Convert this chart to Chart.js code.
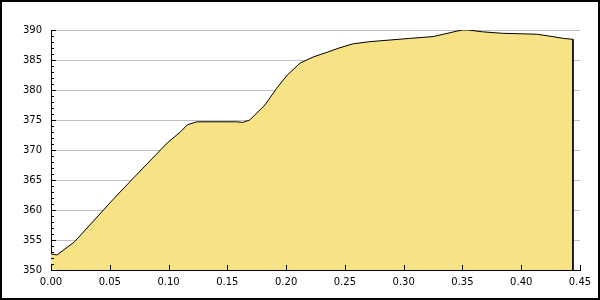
<!DOCTYPE html>
<html>
<head>
<meta charset="utf-8">
<script src="https://cdn.jsdelivr.net/npm/chart.js@4.4.1/dist/chart.umd.min.js"></script>
<style>
  body { margin: 0; background: #fff; }
  canvas { display: block; }
</style>
</head>
<body>
<canvas id="chart" width="600" height="300"></canvas>
<script>
// values (last point closes the area down to the axis)
let xValues = [0.000, 0.005, 0.020, 0.053, 0.070, 0.099, 0.110, 0.116, 0.124, 0.158, 0.163, 0.169,
               0.182, 0.192, 0.201, 0.212, 0.223, 0.235, 0.245, 0.257, 0.271, 0.305, 0.325, 0.345,
               0.350, 0.355, 0.367, 0.384, 0.413, 0.422, 0.436, 0.444, 0.444];
let yValues = [352.7, 352.5, 354.7, 361.8, 365.3, 371.2, 373.0, 374.2, 374.7, 374.7, 374.6, 375.0,
               377.5, 380.3, 382.5, 384.5, 385.5, 386.3, 387.0, 387.7, 388.05, 388.6, 388.9, 389.8,
               390.0, 390.0, 389.7, 389.45, 389.3, 389.05, 388.6, 388.45, 350];
let yTicks = [350, 355, 360, 365, 370, 375, 380, 385, 390];
let xTicks = [0.00, 0.05, 0.10, 0.15, 0.20, 0.25, 0.30, 0.35, 0.40, 0.45];

let points = [];
for (let i = 0; i < xValues.length; i++) {
    points.push({ x: xValues[i], y: yValues[i] });
}

// white background + frame round the whole picture
let framePlugin = {
    id: 'frame',
    beforeDraw: function (c) {
        let ctx = c.ctx;
        ctx.save();
        ctx.fillStyle = '#fff';
        ctx.fillRect(0, 0, c.width, c.height);
        ctx.restore();
    },
    afterDraw: function (c) {
        let ctx = c.ctx;
        ctx.save();
        ctx.strokeStyle = '#000';
        ctx.lineWidth = 2;
        ctx.strokeRect(1, 1, c.width - 2, c.height - 2);
        ctx.restore();
    }
};

// tick marks point into the plot area, minor ticks on y
let tickPlugin = {
    id: 'innerTicks',
    afterDatasetsDraw: function (c) {
        let ctx = c.ctx;
        let xs = c.scales.x, ys = c.scales.y;
        let left = c.chartArea.left, bottom = c.chartArea.bottom;
        ctx.save();
        ctx.strokeStyle = '#000';
        ctx.lineWidth = 1;
        ctx.beginPath();
        for (let v = yTicks[0]; v <= yTicks[yTicks.length - 1]; v++) {
            let py = Math.round(ys.getPixelForValue(v)) + 0.5;
            let len = (v % 5 === 0) ? 5 : 3;
            ctx.moveTo(left, py);
            ctx.lineTo(left + len, py);
        }
        for (let i = 0; i < xTicks.length; i++) {
            let px = Math.round(xs.getPixelForValue(xTicks[i])) + 0.5;
            ctx.moveTo(px, bottom);
            ctx.lineTo(px, bottom - 5);
        }
        ctx.stroke();
        ctx.restore();
    }
};

let ctx = document.getElementById('chart').getContext('2d');
let mychart = new Chart(ctx, {
    type: 'line',
    data: {
        datasets: [{
            data: points,
            borderColor: '#000',
            borderWidth: 1,
            backgroundColor: '#f7e285',
            fill: 'start',
            tension: 0,
            pointRadius: 0
        }]
    },
    options: {
        responsive: false,
        animation: false,
        layout: { padding: { top: 30, right: 20, left: 0, bottom: 0 } },
        plugins: { legend: { display: false }, tooltip: { enabled: false } },
        scales: {
            x: {
                type: 'linear',
                min: 0,
                max: 0.45,
                afterFit: function (s) { s.height = 30; },
                afterBuildTicks: function (s) { s.ticks = xTicks.map(function (v) { return { value: v }; }); },
                grid: { display: false, drawTicks: false },
                border: { display: true, color: '#000', width: 1 },
                ticks: {
                    padding: 6,
                    color: '#000',
                    font: { family: 'DejaVu Sans', size: 10 },
                    maxRotation: 0,
                    callback: function (v) { return Number(v).toFixed(2); }
                }
            },
            y: {
                min: 350,
                max: 390,
                afterFit: function (s) { s.width = 51; },
                afterBuildTicks: function (s) { s.ticks = yTicks.map(function (v) { return { value: v }; }); },
                grid: { color: '#c0c0c0', drawTicks: false },
                border: { display: true, color: '#000', width: 1 },
                ticks: {
                    padding: 9,
                    color: '#000',
                    font: { family: 'DejaVu Sans', size: 10 }
                }
            }
        }
    },
    plugins: [framePlugin, tickPlugin]
});
</script>
</body>
</html>
